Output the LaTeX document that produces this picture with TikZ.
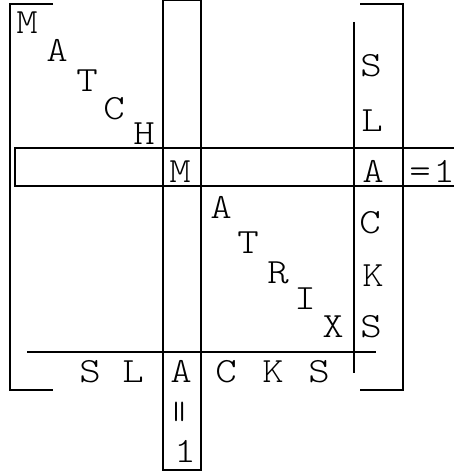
\documentclass[tikz,border=0pt]{standalone}
\usepackage{fontspec}
\newfontfamily\lmlight{lmmonolt10-regular}[Extension=.otf]
\newcommand\wid[1]{\scalebox{1.15}[1]{#1}}
\begin{document}
\begin{tikzpicture}[x=1pt,y=-1pt,
  ln/.style={line width=2.5pt,line cap=butt,line join=miter},
  lt/.style={font=\lmlight\fontsize{35.5}{36}\selectfont,inner sep=0pt,anchor=base}]
\useasboundingbox (0,0) rectangle (454,473);
% brackets
\draw[ln] (53,4) -- (10,4) -- (10,390) -- (53,390);
\draw[ln] (360,4) -- (403,4) -- (403,390) -- (360,390);
% match column strip
\draw[ln] (163,0) rectangle (201,470);
% match row strip (open to the right)
\draw[ln] (460,148) -- (15,148) -- (15,186) -- (460,186);
% slack column and row separators
\draw[ln] (354,22) -- (354,373);
\draw[ln] (27,352) -- (376,352);
% MATCH diagonal
\node[lt] (m1) at (27,34) {\wid{M}};
\node[lt] (m2) at (57,62) {\wid{A}};
\node[lt] (m3) at (87,92) {\wid{T}};
\node[lt] (m4) at (114,120) {\wid{C}};
\node[lt] (m5) at (144,145) {\wid{H}};
% row
\node[lt] (rm) at (180,182) {\wid{M}};
\node[lt] (ra) at (373,182) {\wid{A}};
\node[lt] (req) at (420,182) {\wid{=}};
\node[lt] (req1) at (444,182) {\wid{1}};
% MATRIX diagonal
\node[lt] (x1) at (221,218) {\wid{A}};
\node[lt] (x2) at (248,253) {\wid{T}};
\node[lt] (x3) at (278,283) {\wid{R}};
\node[lt] (x4) at (305,309) {\wid{I}};
\node[lt] (x5) at (333,337) {\wid{X}};
% SLACKS column
\node[lt] (s1) at (371,77) {\wid{S}};
\node[lt] (s2) at (372,132) {\wid{L}};
\node[lt] (s3) at (370,233) {\wid{C}};
\node[lt] (s4) at (373,286) {\wid{K}};
\node[lt] (s5) at (371,337) {\wid{S}};
% SLACKS row
\node[lt] (b1) at (90,382) {\wid{S}};
\node[lt] (b2) at (133,382) {\wid{L}};
\node[lt] (b3) at (181,382) {\wid{A}};
\node[lt] (b4) at (226,382) {\wid{C}};
\node[lt] (b5) at (273,382) {\wid{K}};
\node[lt] (b6) at (319,382) {\wid{S}};
% vertical =1
\node[lt,anchor=center,rotate=90] (veq) at (183,412) {\scalebox{1.25}[1.1]{=}};
\node[lt] (v1) at (185,462) {\wid{1}};
\end{tikzpicture}
\end{document}
